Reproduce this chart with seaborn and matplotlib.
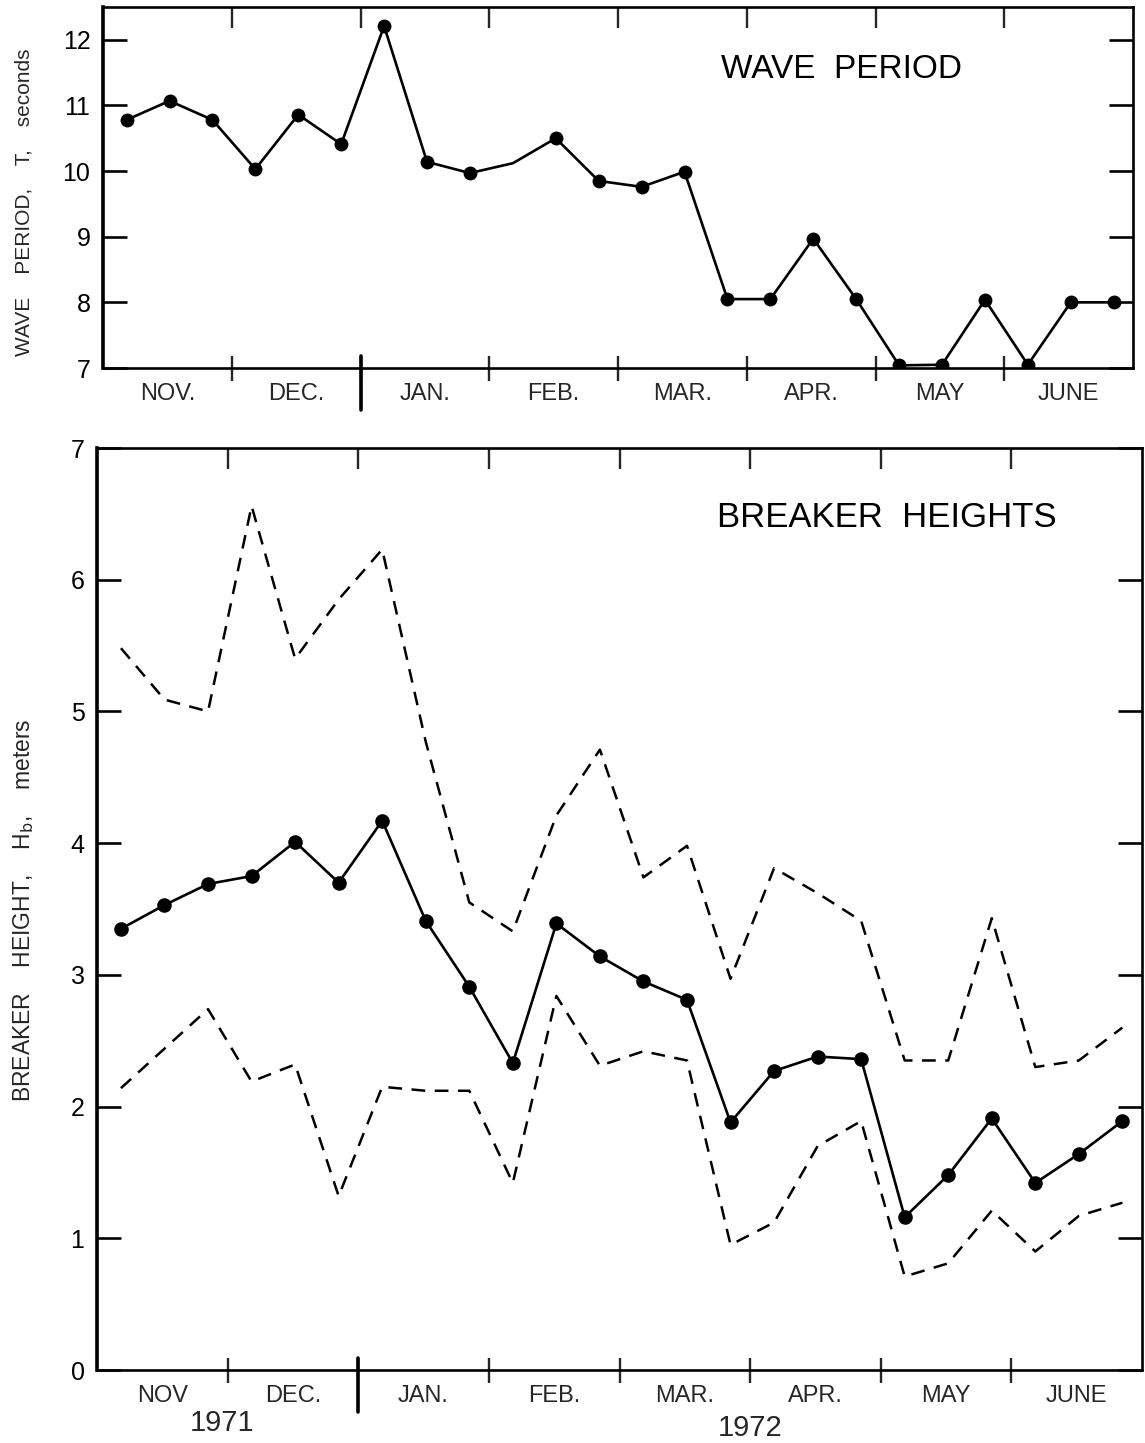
import numpy as np
import pandas as pd
import matplotlib
matplotlib.use("Agg")
import matplotlib.pyplot as plt
import matplotlib.transforms as mtransforms
import seaborn as sns

# ---------------- data ----------------
month_labels_top = ["NOV.", "DEC.", "JAN.", "FEB.", "MAR.", "APR.", "MAY", "JUNE"]
month_labels_bot = ["NOV", "DEC.", "JAN.", "FEB.", "MAR.", "APR.", "MAY", "JUNE"]
years = ["1971", "1972"]

# three samples per month (Nov 1971 .. June 1972)
sample_month = np.repeat(np.arange(8), 3)
sample_third = np.tile([0, 1, 2], 8)

wave_period = [10.78, 11.07, 10.78, 10.03, 10.86, 10.41, 12.21, 10.14, 9.97, 10.12,
               10.50, 9.85, 9.76, 9.99, 8.05, 8.05, 8.97, 8.05, 7.04, 7.05,
               8.04, 7.05, 8.00, 8.00]
period_no_marker = [9]

breaker_mean = [3.35, 3.53, 3.69, 3.75, 4.01, 3.70, 4.17, 3.41, 2.91, 2.33,
                3.39, 3.14, 2.95, 2.81, 1.88, 2.27, 2.38, 2.36, 1.16, 1.48,
                1.91, 1.42, 1.64, 1.89]
breaker_upper = [5.48, 5.09, 5.00, 6.56, 5.40, 5.85, 6.23, 4.77, 3.55, 3.33,
                 4.21, 4.71, 3.74, 3.98, 2.97, 3.81, 3.62, 3.41, 2.35, 2.35,
                 3.43, 2.30, 2.35, 2.60]
breaker_lower = [2.14, 2.44, 2.74, 2.19, 2.32, 1.32, 2.15, 2.12, 2.12, 1.42,
                 2.84, 2.31, 2.42, 2.35, 0.95, 1.12, 1.70, 1.89, 0.71, 0.81,
                 1.21, 0.90, 1.17, 1.27]

# ---------------- style ----------------
sns.set_style("white")
plt.rcParams["font.family"] = ["Liberation Sans", "DejaVu Sans"]
narrow = ["Liberation Sans Narrow", "Liberation Sans", "DejaVu Sans"]

x = sample_month + (sample_third + 0.55) / 3.0
df = pd.DataFrame({"x": x, "period": wave_period, "mean": breaker_mean,
                   "upper": breaker_upper, "lower": breaker_lower})

W, H = 1145, 1443
fig = plt.figure(figsize=(W / 100, H / 100), dpi=100)

def frac(l, t, r, b):
    return [l / W, 1 - b / H, (r - l) / W, (b - t) / H]

ax1 = fig.add_axes(frac(103, 7, 1133, 368))
ax2 = fig.add_axes(frac(97, 448, 1142, 1370))

LW = 1.9
MS = 10

def style_axis(ax, ylim, yticks, labels, height_px):
    ax.set_xlim(0, 8)
    ax.set_ylim(*ylim)
    for s in ax.spines.values():
        s.set_visible(True)
        s.set_color("k")
        s.set_linewidth(1.9)
    ax.spines["left"].set_linewidth(2.6)
    ax.set_yticks(yticks)
    ax.set_yticklabels([str(v) for v in yticks])
    ax.tick_params(axis="y", direction="in", length=17, width=1.9, left=True,
                   right=True, labelsize=18, pad=9, colors="k")
    # month boundaries on the bottom axis
    ax.set_xticks(np.arange(1, 8))
    ax.set_xticklabels([""] * 7)
    ax.tick_params(axis="x", which="major", direction="inout", length=18,
                   width=1.7, bottom=True, top=False)
    ax.set_xticks(np.arange(8) + 0.5, minor=True)
    ax.set_xticklabels(labels, minor=True, fontfamily=narrow)
    ax.tick_params(axis="x", which="minor", length=0, labelsize=17, pad=11)
    # month boundaries on the top axis
    sec = ax.secondary_xaxis("top")
    sec.set_xticks(np.arange(1, 8))
    sec.set_xticklabels([""] * 7)
    sec.tick_params(direction="in", length=15, width=1.7)
    sec.spines["top"].set_visible(False)
    # year separator (longer tick at Jan.)
    trans = mtransforms.blended_transform_factory(ax.transData, ax.transAxes)
    ax.plot([2, 2], [12 / height_px, -42 / height_px], color="k",
            lw=2.6, transform=trans, clip_on=False)
    ax.set_xlabel("")
    ax.set_ylabel("")
    ax.grid(False)

# ---------------- top: wave period ----------------
keep = [i for i in range(len(wave_period)) if i not in period_no_marker]
sns.lineplot(data=df, x="x", y="period", ax=ax1, color="k", lw=LW, marker="o",
             markersize=MS, markeredgewidth=0, markevery=keep)
style_axis(ax1, (7, 12.5), [7, 8, 9, 10, 11, 12], month_labels_top, 361)
ax1.text(0.6, 0.87, "WAVE  PERIOD", transform=ax1.transAxes, fontsize=24,
         ha="left", va="top", color="k")

# ---------------- bottom: breaker heights ----------------
sns.lineplot(data=df, x="x", y="upper", ax=ax2, color="k", lw=1.8,
             linestyle=(0, (5.5, 3.8)))
sns.lineplot(data=df, x="x", y="lower", ax=ax2, color="k", lw=1.8,
             linestyle=(0, (5.5, 3.8)))
sns.lineplot(data=df, x="x", y="mean", ax=ax2, color="k", lw=LW, marker="o",
             markersize=MS + 0.5, markeredgewidth=0)
style_axis(ax2, (0, 7), list(range(0, 8)), month_labels_bot, 922)
ax2.text(0.593, 0.942, "BREAKER  HEIGHTS", transform=ax2.transAxes, fontsize=25,
         ha="left", va="top", color="k")

# year labels
trans2 = mtransforms.blended_transform_factory(ax2.transData, fig.transFigure)
ax2.text(0.96, 1 - 1423 / H, years[0], transform=trans2, ha="center", va="center",
         fontsize=21, fontfamily=narrow)
ax2.text(5.0, 1 - 1428 / H, years[1], transform=trans2, ha="center", va="center",
         fontsize=21, fontfamily=narrow)

# y-axis labels
fig.text(24 / W, 1 - 202 / H, "WAVE    PERIOD,    T,    seconds", rotation=90,
         ha="center", va="center", fontsize=15)
fig.text(24 / W, 1 - 910 / H, r"BREAKER    HEIGHT,    H$_\mathrm{b}$,    meters",
         rotation=90, ha="center", va="center", fontsize=16.5)

fig.savefig("out.png", dpi=100, facecolor="white")
